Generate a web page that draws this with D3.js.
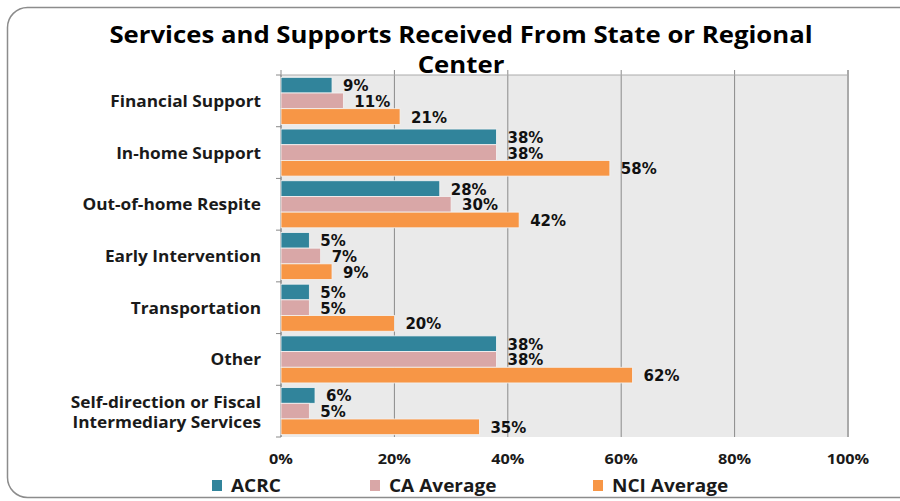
<!DOCTYPE html>
<html>
<head>
<meta charset="utf-8">
<script src="https://cdn.jsdelivr.net/npm/d3@7"></script>
<style>
  body { margin: 0; background: #fff; }
  svg { display: block; }
</style>
</head>
<body>
<div id="vis"></div>
<script>
// chart data
var categories = ["Financial Support", "In-home Support", "Out-of-home Respite", "Early Intervention",
	"Transportation", "Other", "Self-direction or Fiscal|Intermediary Services"];
var seriesNames = ["ACRC", "CA Average", "NCI Average"];
var acrc = [9, 38, 28, 5, 5, 38, 6];
var caAverage = [11, 38, 30, 7, 5, 38, 5];
var nciAverage = [21, 58, 42, 9, 20, 62, 35];
var tickValues = [0, 20, 40, 60, 80, 100];
var colors = ["#31849B", "#D9A7A7", "#F79646"];

var width = 900,
	height = 501;

var plot = {left: 281, right: 848, top: 75, bottom: 437};
var stretch = 1.12; // the original text looks a bit wide

var svg = d3.select("#vis").append("svg")
	.attr("width", width)
	.attr("height", height);

// text placed at x,y and stretched sideways
function wideText(sel, px, py, size, anchor) {
	return sel.append("text")
		.attr("transform", "translate(" + px + "," + py + ") scale(" + stretch + ",1)")
		.attr("text-anchor", anchor)
		.style("font-family", "'Open Sans', sans-serif")
		.style("font-weight", "bold")
		.style("font-size", size + "px")
		.style("fill", "#1a1a1a");
}

// outer rounded frame
svg.append("rect")
	.attr("x", 7.5).attr("y", 7.5)
	.attr("width", 940).attr("height", 490)
	.attr("rx", 20)
	.style("fill", "#fff")
	.style("stroke", "#8c8c8c")
	.style("stroke-width", 1.5);

// title
wideText(svg, 461, 43, 23, "middle").style("fill", "#000")
	.text("Services and Supports Received From State or Regional");
wideText(svg, 461, 73, 23, "middle").style("fill", "#000")
	.text("Center");

var x = d3.scaleLinear().domain([0, 100]).range([plot.left, plot.right]);
var y = d3.scaleBand().domain(categories).range([plot.top, plot.bottom]).paddingInner(0.09).paddingOuter(0.045);
var yInner = d3.scaleBand().domain(seriesNames).range([0, y.bandwidth()]);
var yOuter = d3.scaleBand().domain(categories).range([plot.top, plot.bottom]);

// plot background
svg.append("rect")
	.attr("x", plot.left).attr("y", plot.top)
	.attr("width", plot.right - plot.left).attr("height", plot.bottom - plot.top)
	.style("fill", "#EAEAEA");

// vertical gridlines
svg.append("g").selectAll("line")
	.data(tickValues)
	.enter().append("line")
	.attr("x1", function(d) { return x(d); })
	.attr("x2", function(d) { return x(d); })
	.attr("y1", plot.top - 5)
	.attr("y2", plot.bottom)
	.style("stroke", function(d) { return d === 100 ? "#aaa" : "#8a8a8a"; })
	.style("stroke-width", function(d) { return d === 100 ? 2 : 1; });

svg.append("line")
	.attr("x1", plot.left).attr("x2", plot.right)
	.attr("y1", plot.top).attr("y2", plot.top)
	.style("stroke", "#aaa");

// left axis with category ticks
svg.append("line")
	.attr("x1", plot.left).attr("x2", plot.left)
	.attr("y1", plot.top).attr("y2", plot.bottom)
	.style("stroke", "#8a8a8a");
svg.append("g").selectAll("line")
	.data(d3.range(categories.length + 1))
	.enter().append("line")
	.attr("x1", plot.left - 5).attr("x2", plot.left)
	.attr("y1", function(i) { return plot.top + i * yOuter.step(); })
	.attr("y2", function(i) { return plot.top + i * yOuter.step(); })
	.style("stroke", "#8a8a8a");

// bars
var rows = categories.map(function(c, i) {
	return {cat: c, values: [acrc[i], caAverage[i], nciAverage[i]]};
});

var groups = svg.append("g").selectAll("g")
	.data(rows)
	.enter().append("g")
	.attr("transform", function(d) { return "translate(0," + y(d.cat) + ")"; });

groups.selectAll("rect")
	.data(function(d) { return d.values.map(function(v, j) { return {name: seriesNames[j], value: v, j: j}; }); })
	.enter().append("rect")
	.attr("x", plot.left)
	.attr("y", function(d) { return yInner(d.name); })
	.attr("width", function(d) { return x(d.value) - plot.left; })
	.attr("height", yInner.bandwidth())
	.style("fill", function(d) { return colors[d.j]; })
	.style("stroke", "#f4f4f4")
	.style("stroke-width", 0.8);

groups.selectAll("text")
	.data(function(d) { return d.values.map(function(v, j) { return {name: seriesNames[j], value: v}; }); })
	.enter().append("text")
	.attr("x", function(d) { return x(d.value) + 11; })
	.attr("y", function(d) { return yInner(d.name) + yInner.bandwidth() / 2 + 6; })
	.style("font-family", "'DejaVu Sans', sans-serif")
	.style("font-weight", "bold")
	.style("font-size", "15px")
	.style("fill", "#111")
	.text(function(d) { return d.value + "%"; });

// category labels
categories.forEach(function(d) {
	var lines = d.split("|");
	var mid = yOuter(d) + yOuter.bandwidth() / 2;
	lines.forEach(function(line, k) {
		var ly = lines.length === 1 ? mid + 6 : mid - 3.5 + k * 20;
		wideText(svg, 261, ly, 15.4, "end").text(line);
	});
});

// x tick labels
tickValues.forEach(function(d) {
	wideText(svg, x(d), 464, 14.5, "middle").text(d + "%");
});

// legend
var legendX = [212, 370, 593];
seriesNames.forEach(function(name, i) {
	svg.append("rect")
		.attr("x", legendX[i]).attr("y", 480)
		.attr("width", 10).attr("height", 11)
		.style("fill", colors[i]);
	wideText(svg, legendX[i] + 19, 492, 17, "start").text(name);
});
</script>
</body>
</html>
